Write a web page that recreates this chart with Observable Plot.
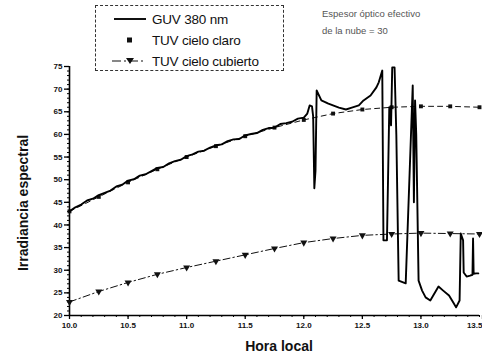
<!DOCTYPE html>
<html>
<head>
<meta charset="utf-8">
<script src="https://cdn.jsdelivr.net/npm/d3@7"></script>
<script src="https://cdn.jsdelivr.net/npm/@observablehq/plot@0.6"></script>
<style>
  html, body { margin: 0; padding: 0; background: #fff; }
  #wrap { position: relative; width: 482px; height: 359px; overflow: hidden; font-family: "Liberation Sans", Arial, sans-serif; }
  #legend { position: absolute; left: 95px; top: 5px; width: 189px; height: 66px; border: 1px dashed #333; box-sizing: border-box; }
  .row { position: absolute; left: 0; height: 20px; display: flex; align-items: center; }
  .row svg { margin-left: 16px; }
  .row span { font-size: 13.5px; color: #111; margin-left: 4px; letter-spacing: -0.2px; }
  #note { position: absolute; left: 322px; top: 5px; font-size: 9.5px; line-height: 17px; color: #555; }
  .title { position: absolute; font-size: 14px; font-weight: bold; color: #111; white-space: nowrap; }
  #ytitle { left: 23px; top: 203px; transform: translate(-50%, -50%) rotate(-90deg); }
  #xtitle { left: 279px; top: 346px; transform: translate(-50%, -50%); }
</style>
</head>
<body>
<div id="wrap">
  <div id="chart"></div>
  <div id="legend">
    <div class="row" style="top:3px"><svg width="36" height="10"><line x1="2" x2="34" y1="5" y2="5" stroke="#111" stroke-width="2"/></svg><span>GUV 380 nm</span></div>
    <div class="row" style="top:24px"><svg width="36" height="10"><rect x="15" y="2.5" width="5" height="5" fill="#111"/></svg><span>TUV cielo claro</span></div>
    <div class="row" style="top:45px"><svg width="36" height="10"><line x1="0" x2="34" y1="5" y2="5" stroke="#111" stroke-width="1.2" stroke-dasharray="9,3,2,3"/><path d="M14,2 L22,2 L18,8 Z" fill="#111"/></svg><span>TUV cielo cubierto</span></div>
  </div>
  <div id="note">Espesor óptico efectivo<br>de la nube = 30</div>
  <div class="title" id="ytitle">Irradiancia espectral</div>
  <div class="title" id="xtitle">Hora local</div>
</div>
<script>
// GUV 380 nm measurements (local hour, spectral irradiance)
const guvHours = [
  10.00, 10.05, 10.10, 10.15, 10.20, 10.25, 10.30, 10.35, 10.40, 10.45,
  10.50, 10.55, 10.60, 10.65, 10.70, 10.75, 10.80, 10.85, 10.90, 10.95,
  11.00, 11.05, 11.10, 11.15, 11.20, 11.25, 11.30, 11.35, 11.40, 11.45,
  11.50, 11.55, 11.60, 11.65, 11.70, 11.75, 11.80, 11.85, 11.90, 11.95,
  12.00, 12.03, 12.05, 12.07, 12.08, 12.09, 12.10, 12.11, 12.15, 12.21,
  12.30, 12.36, 12.41, 12.47, 12.51, 12.57, 12.62, 12.64, 12.67, 12.68,
  12.71, 12.73, 12.745, 12.755, 12.775, 12.79, 12.81, 12.87, 12.93, 12.94,
  12.95, 12.96, 12.98, 13.01, 13.04, 13.08, 13.13, 13.15, 13.19, 13.24,
  13.28, 13.30, 13.33, 13.34, 13.36, 13.365, 13.39, 13.42, 13.44, 13.445,
  13.45, 13.47, 13.49
];
const guvValues = [
  43.0, 43.9, 44.5, 45.4, 45.8, 46.6, 47.1, 47.6, 48.5, 48.9,
  49.8, 50.1, 50.9, 51.2, 51.9, 52.6, 52.8, 53.6, 54.1, 54.4,
  55.2, 55.6, 56.2, 56.4, 57.1, 57.6, 57.8, 58.5, 58.9, 59.0,
  59.8, 60.1, 60.3, 61.0, 61.4, 61.5, 62.3, 62.5, 62.8, 63.5,
  63.7, 64.6, 66.4, 66.2, 64.0, 48.1, 52.0, 69.7, 67.5, 66.8,
  65.9, 65.5, 65.9, 66.4, 67.5, 68.6, 70.4, 71.5, 74.1, 36.6,
  36.6, 66.0, 62.0, 74.8, 74.8, 60.0, 27.7, 27.1, 70.8, 45.0,
  67.5, 60.0, 27.7, 25.5, 24.0, 23.3, 25.5, 26.4, 25.5, 24.4,
  22.7, 21.8, 23.3, 38.1, 36.6, 29.5, 28.6, 28.8, 29.0, 37.0,
  29.2, 29.3, 29.3
];

// TUV model runs (every quarter hour)
const tuvHours = [10.0, 10.25, 10.5, 10.75, 11.0, 11.25, 11.5, 11.75, 12.0, 12.25, 12.5, 12.75, 13.0, 13.25, 13.5];
const tuvClear = [43.0, 46.2, 49.4, 52.3, 55.0, 57.4, 59.6, 61.5, 63.2, 64.6, 65.5, 66.0, 66.2, 66.2, 66.0];
const tuvCloudy = [23.0, 25.3, 27.3, 29.1, 30.6, 32.0, 33.4, 34.8, 36.1, 37.0, 37.7, 38.0, 38.2, 38.1, 38.0];

const xTicks = [10.0, 10.5, 11.0, 11.5, 12.0, 12.5, 13.0];
const xLastTick = [13.5];
const yTicks = [20, 25, 30, 35, 40, 45, 50, 55, 60, 65, 70, 75];

const guv = guvHours.map((h, i) => ({hour: h, value: guvValues[i]}));
const clear = tuvHours.map((h, i) => ({hour: h, value: tuvClear[i]}));
const cloudy = tuvHours.map((h, i) => ({hour: h, value: tuvCloudy[i]}));

const tickFont = {fontSize: 8, fontWeight: "bold", fill: "#111"};

const chart = Plot.plot({
  width: 482,
  height: 359,
  marginLeft: 69,
  marginRight: 3,
  marginTop: 66,
  marginBottom: 44,
  style: {fontFamily: "'Liberation Sans', Arial, sans-serif", background: "white"},
  x: {domain: [10, 13.5]},
  y: {domain: [20, 75]},
  marks: [
    // minor ticks
    Plot.axisY({ticks: d3.range(20, 76, 1), tickSize: 2, tickFormat: () => "", label: null, strokeWidth: 1}),
    Plot.axisX({ticks: d3.range(10, 13.51, 0.1), tickSize: 2, tickFormat: () => "", label: null, strokeWidth: 1}),
    // major ticks
    Plot.axisY({ticks: yTicks, tickSize: 5, tickPadding: 2, tickFormat: d3.format("d"), label: null, strokeWidth: 1.3, ...tickFont}),
    Plot.axisX({ticks: xTicks, tickSize: 4, tickPadding: 3, tickFormat: d3.format(".1f"), label: null, strokeWidth: 1.3, ...tickFont}),
    Plot.axisX({ticks: xLastTick, tickSize: 4, tickPadding: 3, tickFormat: d3.format(".1f"), label: null, strokeWidth: 1.3, textAnchor: "end", dx: 3, ...tickFont}),
    Plot.ruleX([10], {strokeWidth: 1.6}),
    Plot.ruleY([20], {strokeWidth: 1.6}),
    // TUV clear sky
    Plot.line(clear, {x: "hour", y: "value", stroke: "#111", strokeWidth: 1, strokeDasharray: "5,4"}),
    Plot.dot(clear, {x: "hour", y: "value", symbol: "square", r: 2.2, fill: "#111"}),
    // TUV overcast sky
    Plot.line(cloudy, {x: "hour", y: "value", stroke: "#111", strokeWidth: 1, strokeDasharray: "7,3,1.5,3"}),
    Plot.dot(cloudy, {x: "hour", y: "value", symbol: "triangle", rotate: 180, r: 2.6, fill: "#111"}),
    // GUV measurement
    Plot.line(guv, {x: "hour", y: "value", stroke: "#000", strokeWidth: 1.9, strokeLinejoin: "round"})
  ]
});
document.getElementById("chart").appendChild(chart);
</script>
</body>
</html>
